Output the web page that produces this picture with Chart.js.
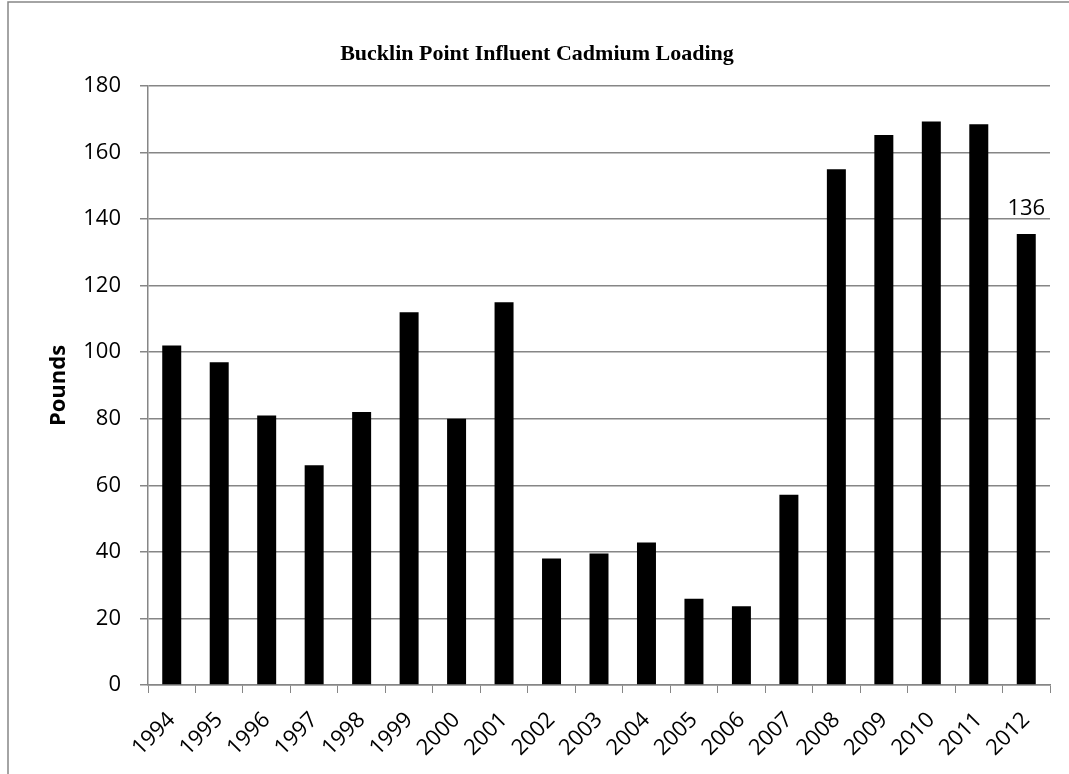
<!DOCTYPE html>
<html>
<head>
<meta charset="utf-8">
<script src="https://cdn.jsdelivr.net/npm/chart.js@4.4.1/dist/chart.umd.min.js"></script>
<style>
  html, body { margin: 0; padding: 0; background: #fff; }
  #wrap { width: 1069px; height: 774px; position: relative; }
</style>
</head>
<body>
<div id="wrap"><canvas id="myChart" width="1069" height="774"></canvas></div>
<script>
// Data
const years = ['1994', '1995', '1996', '1997', '1998', '1999', '2000', '2001', '2002', '2003',
               '2004', '2005', '2006', '2007', '2008', '2009', '2010', '2011', '2012'];
const pounds = [102, 97, 81, 66, 82, 112, 80, 115, 38, 39.5,
                42.8, 25.9, 23.7, 57.2, 155, 165.3, 169.3, 168.5, 135.5];
const labelledIndex = 18;   // only the last bar carries a value label
const labelText = '136';
const yTicks = [0, 20, 40, 60, 80, 100, 120, 140, 160, 180];

const gray = '#868686';
const tickFont = { family: "'Open Sans', 'Liberation Sans', sans-serif", size: 22 };

// white page plus grey frame round the chart (right/bottom edges fall outside)
const framePlugin = {
    id: 'frame',
    beforeDraw(chart) {
        const c = chart.ctx;
        c.save();
        c.fillStyle = '#fff';
        c.fillRect(0, 0, chart.width, chart.height);
        c.strokeStyle = gray;
        c.lineWidth = 1.5;
        c.strokeRect(8, 2, chart.width + 20, chart.height + 20);
        c.restore();
    }
};

// value label over the 2012 bar
const barLabelPlugin = {
    id: 'barLabel',
    afterDatasetsDraw(chart) {
        const bar = chart.getDatasetMeta(0).data[labelledIndex];
        if (!bar) return;
        const c = chart.ctx;
        c.save();
        c.font = `${tickFont.size}px ${tickFont.family}`;
        c.fillStyle = '#000';
        c.textAlign = 'center';
        c.textBaseline = 'bottom';
        c.fillText(labelText, bar.x, bar.y - 14);
        c.restore();
    }
};

const ctx = document.getElementById('myChart').getContext('2d');
const myChart = new Chart(ctx, {
    type: 'bar',
    data: {
        labels: years,
        datasets: [{
            label: 'Pounds',
            data: pounds,
            backgroundColor: '#000',
            borderColor: '#000',
            borderWidth: 0,
            barPercentage: 0.4,
            categoryPercentage: 1.0
        }]
    },
    options: {
        responsive: false,
        animation: false,
        events: [],
        layout: { padding: { left: 24, right: 19, top: 0, bottom: 0 } },
        plugins: {
            legend: { display: false },
            tooltip: { enabled: false },
            title: {
                display: true,
                text: 'Bucklin Point Influent Cadmium Loading',
                color: '#000',
                font: { family: "'Liberation Serif', 'Times New Roman', serif", size: 22, weight: 'bold' },
                padding: { top: 41, bottom: 18.6 }
            }
        },
        scales: {
            x: {
                grid: {
                    offset: true,
                    drawOnChartArea: false,
                    drawTicks: true,
                    tickLength: 8,
                    color: gray
                },
                border: { color: gray, width: 1.5 },
                ticks: {
                    color: '#000',
                    font: tickFont,
                    autoSkip: false,
                    maxRotation: 45,
                    minRotation: 45,
                    padding: 14
                },
                afterFit(scale) { scale.height = 89; }
            },
            y: {
                min: 0,
                max: 180,
                afterBuildTicks(scale) { scale.ticks = yTicks.map(v => ({ value: v })); },
                grid: { color: gray, lineWidth: 1.5, tickLength: 8 },
                border: { color: gray, width: 1.5 },
                ticks: { color: '#000', font: tickFont, padding: 19 },
                title: {
                    display: true,
                    text: 'Pounds',
                    color: '#000',
                    font: { family: "'Open Sans', 'Liberation Sans', sans-serif", size: 22, weight: 'bold' },
                    padding: { top: 22, bottom: 0 }
                },
                afterFit(scale) { scale.width = 124; }
            }
        }
    },
    plugins: [framePlugin, barLabelPlugin]
});
</script>
</body>
</html>
